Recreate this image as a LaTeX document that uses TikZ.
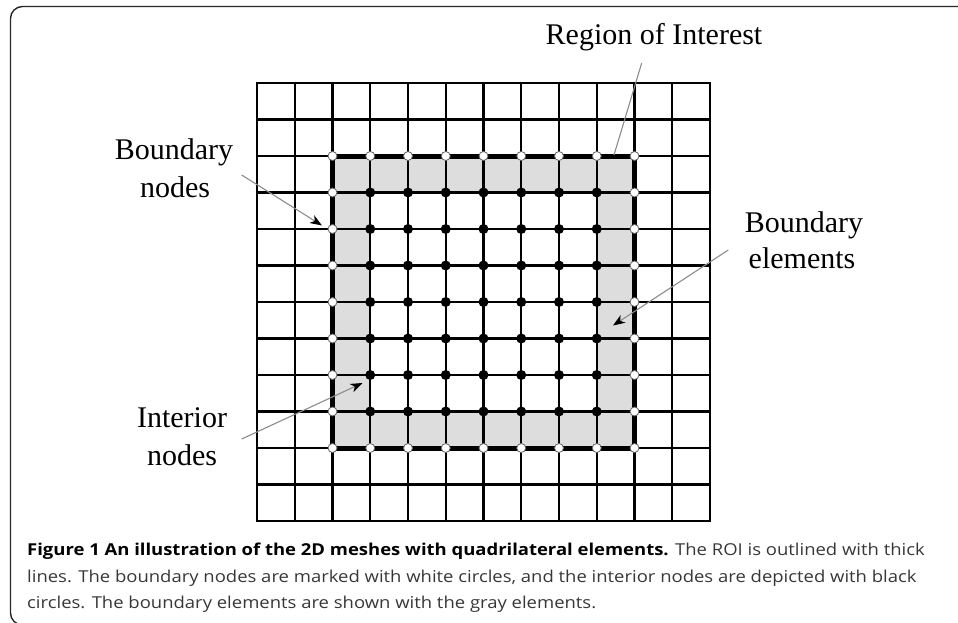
\documentclass[tikz,border=0pt]{standalone}
\usepackage{fontspec}
\usepackage{graphicx}
\setmainfont{Liberation Serif}
\newfontfamily\capfont{Open Sans}
\usetikzlibrary{arrows.meta}
\definecolor{roigray}{RGB}{221,221,221}
\definecolor{leadgray}{RGB}{140,140,140}
\definecolor{captext}{RGB}{55,55,55}
\definecolor{framegray}{RGB}{40,40,40}
\newsavebox\capbox
\newcommand\capsize{\fontsize{16.4}{20}\selectfont}
\newcommand\lblsize{\fontsize{30}{37}\selectfont}
\newcommand\GX[1]{257+#1*37.75}
\newcommand\GY[1]{83+#1*36.5}
\tikzset{
  gridline/.style={line width=2.1pt, black, line cap=rect},
  roiline/.style={line width=5pt, black, line cap=rect},
  wcirc/.style={circle, minimum size=9pt, inner sep=0pt, fill=white, draw=black!60, line width=0.8pt},
  bcirc/.style={circle, minimum size=10pt, inner sep=0pt, fill=black},
  lbl/.style={font=\lblsize, inner sep=0pt, anchor=base},
  leader/.style={draw=leadgray, line width=1.1pt},
  leadarrow/.style={leader, -{Stealth[length=12pt, width=9pt, inset=3.5pt, color=black]}},
  capline/.style={anchor=base west, inner sep=0pt, font=\capfont\capsize},
}
\begin{document}
\sbox\capbox{\capfont\capsize circles. The boundary elements are shown with the gray elements.}%
\pgfmathsetmacro\capscale{569/\the\wd\capbox}%
\begin{tikzpicture}[x=1pt, y=-1pt]
\useasboundingbox (0,0) rectangle (958,623);
% frame
\draw[framegray, line width=1.4pt, rounded corners=12pt] (962,6.5) -- (10.5,6.5) -- (10.5,625) -- (40,625);
% gray boundary elements
\fill[roigray] ({\GX{2}},{\GY{2}}) rectangle ({\GX{10}},{\GY{10}});
\fill[white] ({\GX{3}},{\GY{3}}) rectangle ({\GX{9}},{\GY{9}});
% grid
\foreach \i in {0,...,12} {
  \draw[gridline] ({\GX{\i}},{\GY{0}}) -- ({\GX{\i}},{\GY{12}});
  \draw[gridline] ({\GX{0}},{\GY{\i}}) -- ({\GX{12}},{\GY{\i}});
}
% ROI outline
\draw[roiline] ({\GX{2}},{\GY{2}}) rectangle ({\GX{10}},{\GY{10}});
% interior nodes
\foreach \i in {3,...,9} \foreach \j in {3,...,9}
  \node[bcirc] (in-\i-\j) at ({\GX{\i}},{\GY{\j}}) {};
% boundary nodes
\foreach \i in {2,...,10} {
  \node[wcirc] (bt-\i) at ({\GX{\i}},{\GY{2}}) {};
  \node[wcirc] (bb-\i) at ({\GX{\i}},{\GY{10}}) {};
}
\foreach \j in {3,...,9} {
  \node[wcirc] (bl-\j) at ({\GX{2}},{\GY{\j}}) {};
  \node[wcirc] (br-\j) at ({\GX{10}},{\GY{\j}}) {};
}
% labels
\node[lbl] (roi) at (654,45) {Region of Interest};
\node[lbl] (bn1) at (174,160) {Boundary};
\node[lbl] (bn2) at (175,197) {nodes};
\node[lbl] (be1) at (804,232) {Boundary};
\node[lbl] (be2) at (802,268) {elements};
\node[lbl] (in1) at (182,427) {Interior};
\node[lbl] (in2) at (182,465) {nodes};
% leader lines
\coordinate (roiT) at (641.7,63);
\coordinate (roiH) at (614,155);
\coordinate (bnT) at (241.7,175);
\coordinate (bnH) at (322,225.5);
\coordinate (beT) at (728.3,250);
\coordinate (beH) at (613,325.5);
\coordinate (inT) at (241.7,439);
\coordinate (inH) at (362.5,383);
\draw[leader] (roiT) -- (roiH);
\draw[leadarrow] (bnT) -- (bnH);
\draw[leadarrow] (beT) -- (beH);
\draw[leadarrow] (inT) -- (inH);
% caption
\node[capline] (cap1) at (27,555) {\scalebox{\capscale}[1]{\textbf{Figure 1 An illustration of the 2D meshes with quadrilateral elements.} \color{captext}The ROI is outlined with thick}};
\node[capline, text=captext] (cap2) at (27,582) {\scalebox{\capscale}[1]{lines. The boundary nodes are marked with white circles, and the interior nodes are depicted with black}};
\node[capline, text=captext] (cap3) at (27,608.5) {\scalebox{\capscale}[1]{circles. The boundary elements are shown with the gray elements.}};
\end{tikzpicture}
\end{document}
